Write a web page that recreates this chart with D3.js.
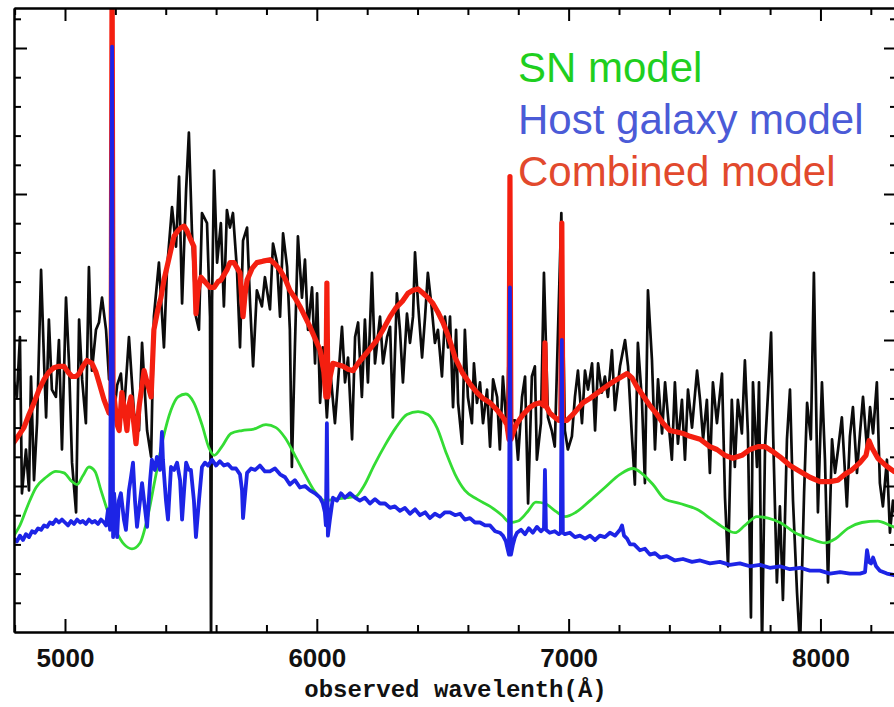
<!DOCTYPE html>
<html>
<head>
<meta charset="utf-8">
<script src="https://cdn.jsdelivr.net/npm/d3@7"></script>
<style>
  html, body { margin: 0; padding: 0; background: #fff; overflow: hidden; }
</style>
</head>
<body>
<svg id="chart" width="894" height="707"></svg>
<script>
// Observed spectrum: [wavelength (Å), flux (arbitrary units)]
const observed = [[4798,1.71],[4809,1.61],[4821,2.02],[4829,0.95],[4845,1.25],[4857,0.97],[4865,1.75],[4877,1.04],[4889,1.43],[4905,2.48],[4917,1.84],[4925,1.47],[4936,2.14],[4948,1.66],[4964,1.61],[4976,2.00],[4988,1.25],[5004,2.29],[5016,1.84],[5028,1.16],[5044,0.82],[5056,2.14],[5068,1.73],[5083,1.43],[5095,2.50],[5107,1.79],[5123,2.07],[5135,2.12],[5147,2.29],[5163,2.07],[5175,1.73],[5187,1.93],[5195,1.50],[5207,1.69],[5222,1.77],[5234,1.50],[5254,2.02],[5274,1.50],[5294,1.38],[5306,1.98],[5326,1.38],[5342,1.20],[5353,2.16],[5373,2.53],[5393,1.95],[5405,2.48],[5425,2.91],[5441,2.64],[5453,3.12],[5465,2.25],[5481,3.03],[5492,3.42],[5504,2.75],[5520,2.16],[5532,2.07],[5544,2.87],[5564,2.80],[5576,2.16],[5580,-0.2],[5584,2.27],[5592,3.16],[5604,2.53],[5619,2.80],[5631,2.23],[5643,2.89],[5655,2.77],[5667,2.87],[5683,2.48],[5695,1.95],[5707,2.68],[5723,2.77],[5735,2.25],[5747,1.82],[5762,2.34],[5782,2.23],[5794,2.43],[5814,2.21],[5826,2.66],[5842,2.53],[5854,2.16],[5866,2.73],[5882,2.50],[5893,2.07],[5901,1.13],[5913,1.95],[5925,2.71],[5941,2.29],[5953,2.55],[5965,2.07],[5981,2.36],[5993,1.84],[6001,2.32],[6013,1.57],[6024,1.95],[6040,1.47],[6052,1.82],[6072,1.43],[6084,1.71],[6100,2.09],[6112,1.71],[6124,1.88],[6140,1.32],[6152,2.02],[6164,2.12],[6179,1.61],[6191,2.14],[6203,1.71],[6219,2.46],[6231,1.84],[6251,2.16],[6263,1.84],[6279,2.02],[6291,2.09],[6302,1.47],[6318,2.32],[6330,2.07],[6342,1.71],[6358,2.18],[6370,1.98],[6382,2.16],[6390,2.60],[6402,2.25],[6418,1.88],[6430,2.16],[6441,2.46],[6457,2.21],[6469,1.98],[6481,2.07],[6497,1.75],[6509,2.16],[6521,1.95],[6529,2.16],[6541,1.54],[6553,2.07],[6561,1.57],[6577,1.29],[6588,2.07],[6600,1.61],[6616,1.43],[6624,1.84],[6636,1.57],[6648,1.71],[6660,1.43],[6676,1.66],[6688,1.27],[6700,1.73],[6716,1.61],[6727,1.25],[6739,1.75],[6755,1.38],[6763,2.02],[6771,1.45],[6787,1.45],[6799,1.18],[6815,1.61],[6827,1.75],[6839,0.88],[6854,1.75],[6866,1.82],[6874,1.18],[6890,1.43],[6902,2.46],[6918,1.47],[6933,1.38],[6945,1.27],[6971,2.87],[6985,1.38],[6997,1.25],[7013,1.34],[7025,1.61],[7037,1.79],[7053,1.43],[7065,1.79],[7077,1.66],[7093,1.84],[7105,1.38],[7117,1.84],[7132,1.64],[7144,1.75],[7156,1.61],[7172,1.93],[7184,1.52],[7204,1.82],[7224,2.00],[7236,1.82],[7251,1.35],[7263,1.01],[7275,1.98],[7291,1.59],[7303,1.02],[7315,2.34],[7331,1.86],[7343,1.25],[7355,1.73],[7371,1.36],[7383,1.71],[7395,1.47],[7410,1.18],[7422,1.71],[7434,1.29],[7450,1.59],[7462,1.18],[7474,1.66],[7490,1.40],[7510,1.79],[7522,1.59],[7534,1.32],[7549,1.59],[7561,1.09],[7573,1.71],[7589,1.43],[7609,1.77],[7621,0.92],[7633,0.45],[7648,1.59],[7660,1.13],[7672,1.59],[7688,1.36],[7700,1.86],[7712,1.36],[7724,0.10],[7732,1.71],[7748,1.13],[7756,1.71],[7768,-0.1],[7780,1.27],[7792,1.64],[7804,2.05],[7812,1.36],[7827,0.34],[7839,0.86],[7851,0.22],[7867,1.32],[7879,1.66],[7891,0.90],[7907,0.27],[7919,-0.1],[7935,0.95],[7947,1.57],[7962,1.32],[7974,2.46],[7990,0.82],[8006,1.71],[8018,1.18],[8030,0.34],[8046,1.32],[8058,1.09],[8070,1.25],[8085,1.47],[8105,0.86],[8117,1.34],[8129,1.54],[8145,1.09],[8157,1.36],[8169,1.61],[8185,1.25],[8197,1.54],[8209,1.36],[8224,1.71],[8236,1.02],[8248,0.86],[8264,1.18],[8276,0.68],[8288,0.90],[8300,0.77]];

// Supernova template
const snModel = [[4797,0.66],[4821,0.73],[4853,0.87],[4885,0.99],[4925,1.06],[4964,1.10],[4996,1.09],[5028,1.03],[5048,1.01],[5071,1.07],[5095,1.13],[5119,1.10],[5143,0.97],[5171,0.82],[5203,0.69],[5235,0.60],[5266,0.57],[5298,0.61],[5326,0.77],[5357,1.04],[5389,1.32],[5421,1.52],[5449,1.61],[5480,1.63],[5512,1.57],[5544,1.42],[5572,1.26],[5592,1.21],[5623,1.27],[5659,1.36],[5703,1.38],[5750,1.39],[5798,1.42],[5838,1.40],[5874,1.33],[5913,1.21],[5953,1.08],[5993,0.96],[6032,0.90],[6076,0.91],[6120,0.92],[6156,0.93],[6187,1.00],[6227,1.14],[6271,1.28],[6314,1.40],[6358,1.49],[6402,1.51],[6441,1.49],[6477,1.40],[6513,1.23],[6549,1.08],[6588,0.97],[6636,0.91],[6688,0.86],[6735,0.80],[6767,0.75],[6799,0.76],[6835,0.82],[6870,0.89],[6906,0.88],[6946,0.83],[6986,0.79],[7029,0.82],[7085,0.90],[7144,0.99],[7204,1.08],[7255,1.12],[7295,1.08],[7335,1.01],[7382,0.91],[7442,0.88],[7509,0.84],[7569,0.77],[7620,0.71],[7660,0.68],[7700,0.73],[7748,0.79],[7792,0.78],[7839,0.75],[7899,0.68],[7958,0.64],[8018,0.61],[8061,0.64],[8109,0.71],[8165,0.75],[8228,0.76],[8276,0.73],[8304,0.71]];

// Host galaxy template
const hostModel = [[4797,0.64],[4809,0.62],[4821,0.66],[4833,0.63],[4845,0.67],[4857,0.65],[4869,0.69],[4881,0.68],[4893,0.71],[4905,0.70],[4917,0.73],[4929,0.72],[4940,0.75],[4952,0.74],[4964,0.77],[4976,0.75],[4988,0.77],[5000,0.75],[5012,0.73],[5024,0.76],[5036,0.74],[5048,0.77],[5060,0.75],[5071,0.76],[5083,0.74],[5095,0.77],[5107,0.75],[5119,0.76],[5131,0.74],[5143,0.77],[5155,0.75],[5163,0.73],[5171,0.84],[5179,0.70],[5187,4.01],[5191,0.65],[5195,0.95],[5203,0.77],[5207,0.65],[5214,0.90],[5222,0.95],[5234,0.77],[5242,0.70],[5254,0.97],[5262,1.06],[5270,1.16],[5278,0.90],[5286,0.72],[5298,0.90],[5306,1.02],[5318,0.84],[5326,0.72],[5338,1.04],[5345,1.18],[5357,1.11],[5365,1.20],[5377,1.11],[5385,1.37],[5389,1.18],[5401,0.90],[5409,0.77],[5421,1.13],[5433,1.11],[5445,1.16],[5457,1.04],[5465,0.77],[5473,0.97],[5481,1.16],[5492,1.11],[5500,1.11],[5512,0.90],[5520,0.65],[5532,0.90],[5544,1.13],[5556,1.16],[5568,1.14],[5584,1.18],[5600,1.14],[5615,1.17],[5631,1.14],[5647,1.15],[5663,1.12],[5679,1.12],[5695,1.08],[5703,0.97],[5707,0.78],[5715,0.94],[5723,1.09],[5739,1.12],[5755,1.11],[5774,1.14],[5794,1.10],[5814,1.10],[5834,1.12],[5854,1.08],[5874,1.06],[5893,1.01],[5913,1.04],[5933,0.99],[5953,1.00],[5973,0.97],[5993,0.95],[6013,0.92],[6024,0.88],[6032,0.82],[6036,0.73],[6040,1.43],[6044,0.66],[6052,0.77],[6064,0.92],[6080,0.90],[6096,0.95],[6112,0.92],[6132,0.95],[6152,0.92],[6171,0.90],[6191,0.92],[6211,0.88],[6231,0.91],[6251,0.88],[6271,0.88],[6291,0.85],[6310,0.86],[6330,0.83],[6350,0.85],[6370,0.81],[6390,0.84],[6410,0.80],[6430,0.82],[6449,0.78],[6469,0.81],[6489,0.79],[6509,0.82],[6529,0.82],[6549,0.80],[6569,0.81],[6588,0.77],[6608,0.78],[6628,0.75],[6648,0.75],[6668,0.73],[6688,0.73],[6708,0.69],[6727,0.68],[6739,0.66],[6751,0.62],[6759,0.56],[6763,0.53],[6767,2.36],[6771,0.53],[6779,0.60],[6787,0.65],[6795,0.68],[6811,0.70],[6827,0.67],[6842,0.71],[6858,0.68],[6874,0.72],[6890,0.69],[6902,0.71],[6906,1.11],[6910,0.70],[6925,0.68],[6945,0.69],[6961,0.67],[6969,0.68],[6973,2.00],[6977,0.68],[6985,0.67],[7005,0.68],[7025,0.65],[7045,0.66],[7065,0.64],[7085,0.66],[7105,0.63],[7124,0.66],[7144,0.65],[7164,0.68],[7184,0.66],[7204,0.70],[7212,0.73],[7220,0.66],[7232,0.64],[7244,0.60],[7260,0.60],[7283,0.56],[7303,0.57],[7323,0.53],[7343,0.54],[7363,0.51],[7390,0.52],[7422,0.49],[7454,0.50],[7490,0.48],[7522,0.49],[7561,0.47],[7601,0.48],[7640,0.46],[7680,0.47],[7720,0.45],[7760,0.46],[7799,0.44],[7839,0.45],[7879,0.43],[7919,0.44],[7958,0.42],[7998,0.42],[8038,0.40],[8078,0.41],[8117,0.40],[8157,0.40],[8177,0.41],[8185,0.56],[8193,0.48],[8201,0.47],[8209,0.51],[8221,0.45],[8236,0.42],[8264,0.40],[8292,0.39],[8304,0.38]];

// SN + host combination
const combinedModel = [[4797,1.30],[4817,1.35],[4837,1.40],[4857,1.49],[4877,1.57],[4897,1.66],[4917,1.73],[4936,1.78],[4956,1.81],[4976,1.82],[4996,1.82],[5012,1.78],[5028,1.75],[5044,1.75],[5056,1.77],[5071,1.82],[5087,1.86],[5107,1.84],[5123,1.78],[5135,1.71],[5155,1.59],[5175,1.50],[5183,1.49],[5187,4.6],[5191,1.49],[5195,1.61],[5207,1.42],[5215,1.38],[5226,1.64],[5238,1.49],[5246,1.38],[5254,1.55],[5262,1.61],[5274,1.42],[5282,1.29],[5294,1.54],[5306,1.69],[5314,1.79],[5326,1.71],[5342,1.61],[5353,2.07],[5369,2.21],[5381,2.29],[5393,2.41],[5409,2.53],[5421,2.62],[5433,2.71],[5449,2.75],[5461,2.77],[5473,2.78],[5484,2.75],[5496,2.70],[5512,2.64],[5520,2.18],[5528,2.34],[5540,2.43],[5560,2.39],[5576,2.36],[5592,2.36],[5608,2.40],[5619,2.41],[5643,2.48],[5655,2.53],[5671,2.53],[5695,2.46],[5707,2.16],[5715,2.31],[5723,2.41],[5743,2.49],[5762,2.53],[5786,2.54],[5814,2.55],[5834,2.52],[5854,2.48],[5874,2.42],[5893,2.34],[5913,2.29],[5933,2.23],[5953,2.16],[5973,2.09],[5993,2.01],[6013,1.93],[6028,1.78],[6036,1.61],[6040,2.39],[6044,1.61],[6052,1.74],[6064,1.84],[6084,1.83],[6104,1.82],[6124,1.80],[6144,1.79],[6164,1.84],[6183,1.88],[6211,1.94],[6239,2.00],[6263,2.07],[6291,2.16],[6314,2.22],[6342,2.27],[6362,2.32],[6382,2.34],[6402,2.35],[6422,2.32],[6441,2.29],[6461,2.25],[6481,2.19],[6501,2.12],[6517,2.05],[6533,1.97],[6549,1.88],[6580,1.77],[6608,1.70],[6636,1.64],[6660,1.60],[6688,1.57],[6716,1.52],[6739,1.47],[6755,1.42],[6763,1.32],[6767,3.12],[6771,1.32],[6783,1.38],[6795,1.43],[6819,1.49],[6847,1.54],[6866,1.56],[6886,1.57],[6902,1.55],[6906,1.98],[6910,1.55],[6925,1.50],[6945,1.47],[6961,1.45],[6969,1.45],[6973,2.80],[6977,1.45],[6993,1.45],[7017,1.49],[7037,1.53],[7057,1.57],[7085,1.60],[7124,1.65],[7156,1.69],[7192,1.73],[7212,1.75],[7232,1.77],[7252,1.74],[7271,1.68],[7295,1.62],[7323,1.55],[7351,1.49],[7375,1.43],[7402,1.38],[7430,1.37],[7454,1.36],[7482,1.34],[7522,1.32],[7561,1.27],[7589,1.25],[7621,1.21],[7652,1.19],[7688,1.21],[7720,1.25],[7752,1.27],[7780,1.27],[7807,1.24],[7839,1.20],[7879,1.14],[7919,1.10],[7958,1.06],[7998,1.03],[8038,1.03],[8069,1.04],[8097,1.08],[8125,1.11],[8157,1.16],[8181,1.21],[8193,1.31],[8205,1.26],[8228,1.19],[8260,1.14],[8292,1.10],[8304,1.09]];

// Axis ticks
const majorWave = [5000, 6000, 7000, 8000];
const minorWave = [4800, 5200, 5400, 5600, 5800, 6200, 6400, 6600, 6800, 7200, 7400, 7600, 7800, 8200];
const majorFlux = [1, 2, 3, 4];
const minorFlux = [0.2, 0.4, 0.6, 0.8, 1.2, 1.4, 1.6, 1.8, 2.2, 2.4, 2.6, 2.8, 3.2, 3.4, 3.6, 3.8, 4.2];

// Legend
const legendLabels = ["SN model", "Host galaxy model", "Combined model"];
const legendColors = ["#1fcf1f", "#4b5bd7", "#e2492d"];

const xTitle = "observed wavelenth(Å)";

const svg = d3.select("#chart");
const plot = { left: 14, right: 897, top: 8, bottom: 632 };

const x = d3.scaleLinear().domain([4797.5, 8304]).range([plot.left, plot.right]);
const y = d3.scaleLinear().domain([0, 4.274]).range([plot.bottom, plot.top]);

svg.append("rect").attr("width", 894).attr("height", 707).attr("fill", "#fff");

svg.append("clipPath").attr("id", "plot-clip")
  .append("rect")
  .attr("x", plot.left).attr("y", plot.top)
  .attr("width", plot.right - plot.left).attr("height", plot.bottom - plot.top);

const lines = svg.append("g").attr("clip-path", "url(#plot-clip)");

const lineGen = d3.line().x(d => x(d[0])).y(d => y(d[1]));
const smoothGen = d3.line().x(d => x(d[0])).y(d => y(d[1])).curve(d3.curveMonotoneX);

function drawSeries(data, gen, color, width) {
  lines.append("path")
    .datum(data)
    .attr("d", gen)
    .attr("fill", "none")
    .attr("stroke", color)
    .attr("stroke-width", width)
    .attr("stroke-linejoin", "round")
    .attr("stroke-linecap", "round");
}

drawSeries(observed, lineGen, "#0b0b0b", 2.7);
drawSeries(combinedModel, lineGen, "#f41f10", 5.2);
drawSeries(snModel, smoothGen, "#34dc34", 2.8);
drawSeries(hostModel, lineGen, "#1d24e6", 3.8);

// Frame with inward ticks on all four sides
function styleAxis(g) {
  g.select(".domain").attr("stroke", "#000").attr("stroke-width", 2);
  g.selectAll(".tick line").attr("stroke", "#000").attr("stroke-width", 2);
}

const axisB = svg.append("g").attr("transform", `translate(0,${plot.bottom})`);
axisB.append("g").call(d3.axisBottom(x).tickValues(minorWave).tickSize(-7).tickSizeOuter(0).tickFormat("")).call(styleAxis);
const axisBMajor = axisB.append("g").call(d3.axisBottom(x).tickValues(majorWave).tickSize(-13).tickSizeOuter(0).tickFormat(d3.format("d"))).call(styleAxis);
axisBMajor.selectAll(".tick text")
  .attr("y", 35).attr("dy", 0)
  .attr("fill", "#111")
  .style("font-family", "'Liberation Sans', Arial, Helvetica, sans-serif")
  .style("font-weight", "bold")
  .style("font-size", "26px");

const axisT = svg.append("g").attr("transform", `translate(0,${plot.top})`);
axisT.append("g").call(d3.axisTop(x).tickValues(minorWave).tickSize(-7).tickSizeOuter(0).tickFormat("")).call(styleAxis);
axisT.append("g").call(d3.axisTop(x).tickValues(majorWave).tickSize(-13).tickSizeOuter(0).tickFormat("")).call(styleAxis);

const axisL = svg.append("g").attr("transform", `translate(${plot.left},0)`);
axisL.append("g").call(d3.axisLeft(y).tickValues(minorFlux).tickSize(-7).tickSizeOuter(0).tickFormat("")).call(styleAxis);
axisL.append("g").call(d3.axisLeft(y).tickValues(majorFlux).tickSize(-13).tickSizeOuter(0).tickFormat("")).call(styleAxis);

const axisR = svg.append("g").attr("transform", `translate(${plot.right},0)`);
axisR.append("g").call(d3.axisRight(y).tickValues(minorFlux).tickSize(-7).tickSizeOuter(0).tickFormat("")).call(styleAxis);
axisR.append("g").call(d3.axisRight(y).tickValues(majorFlux).tickSize(-13).tickSizeOuter(0).tickFormat("")).call(styleAxis);

// Axis title
svg.append("text")
  .attr("x", (plot.left + plot.right) / 2)
  .attr("y", 697)
  .attr("text-anchor", "middle")
  .attr("fill", "#111")
  .style("font-family", "'Liberation Mono', 'Courier New', monospace")
  .style("font-weight", "bold")
  .style("font-size", "24px")
  .text(xTitle);

// Legend
svg.append("g").selectAll("text")
  .data(legendLabels)
  .join("text")
  .attr("x", 518)
  .attr("y", (d, i) => 82 + i * 52)
  .attr("fill", (d, i) => legendColors[i])
  .style("font-family", "'Liberation Sans', Arial, Helvetica, sans-serif")
  .style("font-size", "42px")
  .text(d => d);
</script>
</body>
</html>
